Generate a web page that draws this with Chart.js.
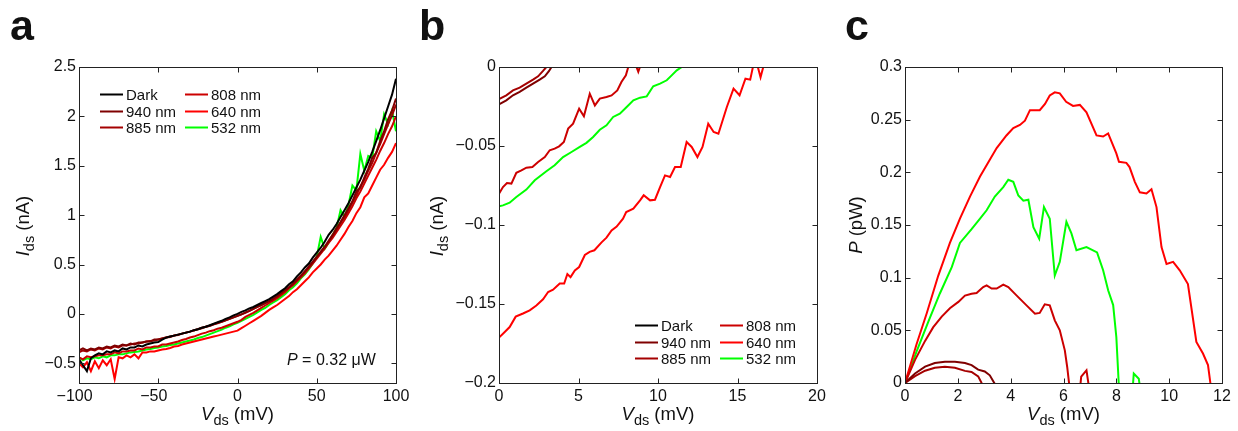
<!DOCTYPE html>
<html>
<head>
<meta charset="utf-8">
<script src="https://cdn.jsdelivr.net/npm/chart.js@4.4.0/dist/chart.umd.min.js"></script>
<style>
  body { margin: 0; background: #fff; width: 1238px; height: 431px; position: relative; overflow: hidden;
         font-family: "Liberation Sans", Arial, sans-serif; color: #111; }
  canvas { position: absolute; top: 0; }
  .lbl { position: absolute; font-weight: bold; font-size: 43px; line-height: 1; }
  .xt, .yt { position: absolute; font-size: 18.5px; line-height: 1; white-space: nowrap; }
  .xt { transform: translateX(-50%); }
  .yt { transform: translate(-50%, -50%) rotate(-90deg); }
  .ann { position: absolute; font-size: 16px; line-height: 1; white-space: nowrap; }
  sub { font-size: 14.5px; vertical-align: -5px; line-height: 0; }
</style>
</head>
<body>
<canvas id="ca" width="420" height="431" style="left:0"></canvas>
<canvas id="cb" width="420" height="431" style="left:420px"></canvas>
<canvas id="cc" width="398" height="431" style="left:840px"></canvas>

<div class="lbl" style="left:10px;top:4px">a</div>
<div class="lbl" style="left:419px;top:4px">b</div>
<div class="lbl" style="left:845px;top:4px">c</div>

<div class="yt" style="left:23px;top:226px"><i>I</i><sub>ds</sub> (nA)</div>
<div class="yt" style="left:437px;top:226px"><i>I</i><sub>ds</sub> (nA)</div>
<div class="yt" style="left:856px;top:225px"><i>P</i> (pW)</div>

<div class="xt" style="left:237.5px;top:405px"><i>V</i><sub>ds</sub> (mV)</div>
<div class="xt" style="left:658px;top:405px"><i>V</i><sub>ds</sub> (mV)</div>
<div class="xt" style="left:1063.5px;top:405px"><i>V</i><sub>ds</sub> (mV)</div>

<div class="ann" style="left:287px;top:352px"><i>P</i> = 0.32 μW</div>

<script>
// ---- series names / colours ----
const labels = ['Dark', '940 nm', '885 nm', '808 nm', '640 nm', '532 nm'];
const colors = ['#000000', '#7f0000', '#a50000', '#cc0000', '#ff0000', '#00ff00'];

// ---- panel a: I-V sweeps, -100..100 mV ----
const vA = [-100,-97.5,-95,-92.5,-90,-87.5,-85,-82.5,-80,-77.5,-75,-72.5,-70,-67.5,-65,-62.5,-60,-57.5,-55,-52.5,
  -50,-47.5,-45,-42.5,-40,-37.5,-35,-32.5,-30,-27.5,-25,-22.5,-20,-17.5,-15,-12.5,-10,-7.5,-5,-2.5,
  0,2.5,5,7.5,10,12.5,15,17.5,20,22.5,25,27.5,30,32.5,35,37.5,40,42.5,45,47.5,
  50,52.5,55,57.5,60,62.5,65,67.5,70,72.5,75,77.5,80,82.5,85,87.5,90,92.5,95,97.5,100];

const aDark = [-0.46,-0.52,-0.58,-0.45, -0.42,-0.40,-0.41,-0.38, -0.39,-0.37,-0.38,-0.35, -0.36,-0.34,-0.34,-0.32,
  -0.33,-0.31,-0.30,-0.29, -0.285,-0.26,-0.24,-0.23, -0.22,-0.21,-0.20,-0.19, -0.18,-0.165,-0.155,-0.14,
  -0.13,-0.115,-0.10,-0.085, -0.07,-0.05,-0.035,-0.015, 0.00,0.02,0.035,0.055, 0.07,0.09,0.11,0.13,
  0.15,0.175,0.20,0.23, 0.26,0.30,0.33,0.38, 0.42,0.47,0.51,0.57, 0.62,0.67,0.73,0.80,
  0.85,0.91,0.98,1.05, 1.12,1.20,1.28,1.36, 1.45,1.54,1.64,1.75, 1.86,1.98,2.10,2.22, 2.38];
const a940 = [-0.37,-0.35,-0.37,-0.35, -0.36,-0.34,-0.35,-0.33, -0.34,-0.32,-0.33,-0.31, -0.32,-0.30,-0.31,-0.29,
  -0.29,-0.28,-0.28,-0.26, -0.26,-0.25,-0.24,-0.23, -0.22,-0.21,-0.20,-0.19, -0.18,-0.165,-0.155,-0.14,
  -0.13,-0.12,-0.105,-0.09, -0.08,-0.065,-0.05,-0.035, -0.02,-0.005,0.015,0.03, 0.05,0.07,0.09,0.11,
  0.13,0.155,0.18,0.21, 0.24,0.27,0.31,0.35, 0.39,0.43,0.48,0.53, 0.58,0.63,0.68,0.74,
  0.80,0.87,0.93,1.00, 1.07,1.14,1.24,1.28, 1.38,1.47,1.58,1.63, 1.75,1.85,1.97,2.06, 2.18];
const a885 = [-0.39,-0.37,-0.38,-0.36, -0.37,-0.35,-0.36,-0.34, -0.35,-0.33,-0.34,-0.32, -0.32,-0.31,-0.30,-0.30,
  -0.29,-0.28,-0.275,-0.27, -0.26,-0.25,-0.24,-0.235, -0.22,-0.215,-0.20,-0.19, -0.18,-0.17,-0.155,-0.145,
  -0.13,-0.12,-0.105,-0.095, -0.08,-0.065,-0.05,-0.035, -0.02,-0.005,0.01,0.03, 0.05,0.07,0.09,0.11,
  0.13,0.15,0.18,0.21, 0.24,0.27,0.30,0.34, 0.38,0.43,0.47,0.52, 0.57,0.62,0.67,0.73,
  0.79,0.85,0.92,0.98, 1.05,1.13,1.20,1.29, 1.36,1.45,1.53,1.63, 1.72,1.82,1.92,2.01, 2.12];
const a808 = [-0.44,-0.46,-0.43,-0.44, -0.43,-0.42,-0.42,-0.41, -0.41,-0.39,-0.40,-0.38, -0.38,-0.37,-0.37,-0.35,
  -0.36,-0.34,-0.34,-0.33, -0.33,-0.31,-0.31,-0.30, -0.29,-0.28,-0.265,-0.255, -0.24,-0.23,-0.215,-0.20,
  -0.19,-0.175,-0.165,-0.15, -0.14,-0.125,-0.11,-0.095, -0.08,-0.06,-0.03,-0.01, 0.01,0.035,0.06,0.085,
  0.11,0.135,0.16,0.19, 0.22,0.26,0.29,0.33, 0.37,0.41,0.46,0.51, 0.56,0.61,0.66,0.72,
  0.77,0.83,0.89,0.95, 1.02,1.09,1.17,1.24, 1.32,1.40,1.48,1.56, 1.65,1.73,1.82,1.90, 2.00];
const a640 = [-0.50,-0.54,-0.49,-0.58, -0.48,-0.55,-0.47,-0.52, -0.46,-0.66,-0.44,-0.45, -0.42,-0.44,-0.41,-0.45,
  -0.39,-0.39,-0.38,-0.38, -0.37,-0.36,-0.355,-0.345, -0.33,-0.325,-0.31,-0.30, -0.29,-0.28,-0.27,-0.26,
  -0.25,-0.24,-0.23,-0.22, -0.21,-0.20,-0.19,-0.18, -0.17,-0.145,-0.12,-0.095, -0.07,-0.045,-0.02,0.01,
  0.04,0.065,0.09,0.12, 0.15,0.18,0.22,0.25, 0.29,0.33,0.37,0.42, 0.46,0.50,0.55,0.59,
  0.64,0.69,0.75,0.81, 0.88,0.94,1.02,1.08, 1.18,1.22,1.30,1.38, 1.46,1.51,1.58,1.64, 1.73];
const a532 = [-0.44,-0.47,-0.45,-0.46, -0.44,-0.45,-0.43,-0.44, -0.42,-0.42,-0.41,-0.41, -0.40,-0.39,-0.385,-0.38,
  -0.37,-0.36,-0.355,-0.345, -0.34,-0.33,-0.325,-0.315, -0.31,-0.30,-0.29,-0.28, -0.27,-0.26,-0.245,-0.235,
  -0.22,-0.205,-0.19,-0.175, -0.16,-0.14,-0.125,-0.105, -0.09,-0.07,-0.05,-0.03, -0.01,0.015,0.04,0.06,
  0.09,0.115,0.14,0.17, 0.20,0.24,0.27,0.31, 0.36,0.40,0.45,0.51, 0.58,0.78,0.66,0.72,
  0.80,0.87,1.05,0.98, 1.10,1.30,1.25,1.62, 1.45,1.60,1.58,1.85, 1.75,2.02,1.92,2.06, 1.85];

// ---- panel b: zoom on the 4th quadrant ----
const b940V = [0,0.46,0.88,1.3,1.72,2.14,2.56,2.88,3.15,3.3,3.5];
const b940I = [-0.0236,-0.0211,-0.0179,-0.0158,-0.0131,-0.0105,-0.008,-0.0059,-0.0025,0,0.002];
const b885V = [0,0.46,0.88,1.3,1.72,2.14,2.46,2.77,2.98,3.2];
const b885I = [-0.0203,-0.0179,-0.0148,-0.0131,-0.0105,-0.008,-0.0059,-0.0025,0,0.002];
const b808V = [0,0.25,0.5,0.78,1.09,1.41,1.72,2.1,2.46,2.88,3.19,3.5,3.78,4.08,4.35,4.66,5.04,5.34,5.71,6.03,
  6.34,6.76,7.08,7.44,7.7,7.98,8.13,8.3,8.5,8.76,9.0];
const b808I = [-0.0802,-0.076,-0.0734,-0.0738,-0.067,-0.0654,-0.0637,-0.0633,-0.0601,-0.057,-0.0527,-0.0517,
  -0.0502,-0.0475,-0.039,-0.0359,-0.0264,-0.0312,-0.0169,-0.0243,-0.02,-0.019,-0.018,-0.0148,-0.0095,-0.0053,
  0,0.003,0.004,-0.003,0.004];
const b640V = [0,0.36,0.67,1.05,1.51,1.93,2.35,2.77,3.09,3.4,3.82,4.1,4.3,4.5,4.77,5.04,5.4,5.7,6.0,6.45,
  6.76,7.08,7.4,7.8,8.0,8.45,8.87,9.1,9.5,9.81,10.13,10.44,10.76,11.07,11.43,11.8,12.12,12.48,12.8,13.16,
  13.5,13.8,14.33,14.75,15.13,15.5,15.8,15.97,16.2,16.45,16.7,17.0];
const b640I = [-0.1713,-0.1677,-0.1646,-0.158,-0.156,-0.154,-0.151,-0.147,-0.1424,-0.141,-0.137,-0.137,-0.131,
  -0.133,-0.1287,-0.1266,-0.119,-0.117,-0.116,-0.111,-0.108,-0.1034,-0.101,-0.096,-0.0918,-0.0897,-0.0844,
  -0.0812,-0.0844,-0.084,-0.076,-0.0686,-0.0696,-0.0633,-0.0633,-0.0475,-0.0506,-0.057,-0.0506,-0.0359,
  -0.0411,-0.0422,-0.0253,-0.0137,-0.0179,-0.0074,-0.008,0,0.003,-0.0065,0.003,0.01];
const b532V = [0,0.25,0.67,1.09,1.72,2.25,2.98,3.5,4.03,4.56,5.08,5.5,5.92,6.34,6.76,7.18,7.6,8.03,8.45,8.87,
  9.29,9.7,10.13,10.55,10.86,11.18,11.5,11.7];
const b532I = [-0.0882,-0.0876,-0.0859,-0.0823,-0.0776,-0.0717,-0.066,-0.0622,-0.057,-0.0538,-0.0506,-0.048,
  -0.0443,-0.0397,-0.0369,-0.0316,-0.0295,-0.0253,-0.0211,-0.0194,-0.0186,-0.0122,-0.0105,-0.0084,-0.0053,
  -0.0021,0,0.001];

// ---- panel c: output power ----
const c940V = [0,0.38,0.76,1.13,1.51,1.89,2.27,2.52,2.77,3.02,3.21,3.38,3.45];
const c940P = [0,0.009,0.0155,0.019,0.0202,0.0202,0.019,0.017,0.0127,0.011,0.0073,0,-0.003];
const c885V = [0,0.38,0.76,1.13,1.51,1.89,2.27,2.52,2.77,2.9,2.98];
const c885P = [0,0.0065,0.0117,0.0145,0.0155,0.0145,0.0115,0.0105,0.0063,0,-0.003];
const c808V = [0,0.38,0.76,1.07,1.39,1.7,2.02,2.27,2.52,2.71,2.96,3.09,3.28,3.47,3.72,3.91,4.22,4.6,4.92,5.1,
  5.29,5.48,5.67,5.86,6.05,6.14,6.21,6.24,6.6,6.67,6.87,6.97];
const c808P = [0,0.022,0.04,0.053,0.063,0.071,0.077,0.083,0.0848,0.0855,0.0911,0.0927,0.0896,0.0896,
  0.0934,0.0911,0.0832,0.0737,0.0658,0.0665,0.0747,0.0737,0.0595,0.05,0.031,0.0152,0,-0.016,-0.012,0.006,
  0.012,-0.005];
const c640V = [0,0.44,0.82,1.26,1.7,2.08,2.46,2.84,3.21,3.47,3.84,4.1,4.35,4.54,4.73,5.1,5.3,5.48,5.67,5.86,
  6.1,6.36,6.62,6.87,7.25,7.5,7.69,8.0,8.1,8.38,8.5,8.7,8.89,9.14,9.33,9.52,9.71,9.9,10.15,10.4,
  10.71,11.03,11.28,11.47,11.56,11.63];
const c640P = [0,0.037,0.066,0.102,0.133,0.156,0.177,0.196,0.212,0.223,0.235,0.242,0.245,0.249,0.259,0.259,
  0.265,0.273,0.276,0.275,0.267,0.263,0.264,0.257,0.235,0.234,0.237,0.218,0.210,0.209,0.205,0.191,0.181,
  0.180,0.184,0.167,0.129,0.113,0.115,0.107,0.094,0.039,0.028,0.017,0,-0.016];
const c532V = [0,0.44,0.88,1.32,1.77,2.08,2.52,2.84,3.09,3.4,3.72,3.91,4.1,4.29,4.48,4.67,4.86,5.08,5.26,5.48,
  5.67,5.86,6.11,6.3,6.49,6.87,7.27,7.5,7.69,7.88,8.0,8.09,8.13,8.6,8.66,8.85,8.93];
const c532P = [0,0.03,0.058,0.085,0.11,0.133,0.146,0.156,0.164,0.177,0.186,0.193,0.191,0.178,0.173,0.174,
  0.148,0.137,0.167,0.156,0.102,0.115,0.153,0.142,0.126,0.129,0.124,0.107,0.088,0.074,0.0437,0,-0.016,
  -0.012,0.009,0.004,-0.01];

// ---- tick labels ----
const aTicksX = [-100, -50, 0, 50, 100];
const aTicksY = [-0.5, 0, 0.5, 1, 1.5, 2, 2.5];
const bTicksX = [0, 5, 10, 15, 20];
const bTicksY = [-0.2, -0.15, -0.1, -0.05, 0];
const cTicksX = [0, 2, 4, 6, 8, 10, 12];
const cTicksY = [0, 0.05, 0.1, 0.15, 0.2, 0.25, 0.3];

Chart.defaults.font.family = '"Liberation Sans", Arial, sans-serif';
Chart.defaults.font.size = 16;
Chart.defaults.color = '#111';

const pts = (xs, ys) => xs.map((x, i) => ({ x, y: ys[i] }));
const fmt = v => (v < 0 ? '\u2212' + String(-v) : String(v));
// x labels: the number itself is centred on the tick, the minus hangs to the left
const fmtX = v => (v < 0 ? fmt(v) + '\u2007' : fmt(v));

function line(idx, data) {
  return {
    label: labels[idx], data, borderColor: colors[idx], backgroundColor: colors[idx],
    borderWidth: 2, pointRadius: 0, fill: false, tension: 0
  };
}

function axis(min, max, tickVals, dim, size, pad, f) {
  return {
    type: 'linear', min, max,
    grid: { display: false, drawTicks: false },
    border: { display: false },
    ticks: { padding: pad, autoSkip: false, maxRotation: 0, callback: v => f(v) },
    afterBuildTicks: s => { s.ticks = tickVals.map(v => ({ value: v })); },
    afterFit: s => { s[dim] = size; }
  };
}

// box round the plot with inward ticks on all four sides
const framePlugin = {
  id: 'frame',
  afterDraw(chart) {
    const { ctx, chartArea: a, scales: { x, y } } = chart;
    const L = Math.round(a.left) + 0.5, R = Math.round(a.right) + 0.5;
    const T = Math.round(a.top) + 0.5, B = Math.round(a.bottom) + 0.5;
    ctx.save();
    ctx.strokeStyle = '#222';
    ctx.lineWidth = 1;
    ctx.strokeRect(L, T, R - L, B - T);
    ctx.beginPath();
    x.ticks.forEach(t => {
      const px = Math.round(x.getPixelForValue(t.value)) + 0.5;
      ctx.moveTo(px, B); ctx.lineTo(px, B - 5);
      ctx.moveTo(px, T); ctx.lineTo(px, T + 5);
    });
    y.ticks.forEach(t => {
      const py = Math.round(y.getPixelForValue(t.value)) + 0.5;
      ctx.moveTo(L, py); ctx.lineTo(L + 5, py);
      ctx.moveTo(R, py); ctx.lineTo(R - 5, py);
    });
    ctx.stroke();
    ctx.restore();
  }
};

// two-column legend, three rows, column-major order
const colLegend = {
  id: 'colLegend',
  afterDatasetsDraw(chart, args, o) {
    if (!o.show) return;
    const { ctx, chartArea: a } = chart;
    const x0 = o.right ? a.right - o.dx : a.left + o.dx;
    const y0 = o.bottom ? a.bottom - o.dy : a.top + o.dy;
    ctx.save();
    ctx.font = '15px "Liberation Sans", Arial, sans-serif';
    ctx.textBaseline = 'middle';
    ctx.fillStyle = '#111';
    chart.data.datasets.forEach((ds, i) => {
      const cx = x0 + Math.floor(i / 3) * 85, cy = Math.round(y0 + (i % 3) * 16.7) + 0.5;
      ctx.strokeStyle = ds.borderColor;
      ctx.lineWidth = 2;
      ctx.beginPath(); ctx.moveTo(cx, cy); ctx.lineTo(cx + 23, cy); ctx.stroke();
      ctx.fillText(ds.label, cx + 26, cy + 1);
    });
    ctx.restore();
  }
};

function makeChart(id, datasets, xs, ys, padRight, yWidth, legendOpts) {
  return new Chart(document.getElementById(id), {
    type: 'line',
    data: { datasets },
    options: {
      responsive: false,
      animation: false,
      layout: { padding: { left: 0, right: padRight, top: 67, bottom: 0 } },
      plugins: { legend: { display: false }, tooltip: { enabled: false }, colLegend: legendOpts },
      scales: {
        x: axis(xs[0], xs[1], xs[2], 'height', 48, 4, fmtX),
        y: axis(ys[0], ys[1], ys[2], 'width', yWidth, 3, fmt)
      }
    },
    plugins: [framePlugin, colLegend]
  });
}

makeChart('ca', [
  line(0, pts(vA, aDark)), line(1, pts(vA, a940)), line(2, pts(vA, a885)),
  line(3, pts(vA, a808)), line(4, pts(vA, a640)), line(5, pts(vA, a532))
], [-100, 100, aTicksX], [-0.7, 2.5, aTicksY], 24, 79, { show: true, dx: 21, dy: 27 });

makeChart('cb', [
  line(0, []), line(1, pts(b940V, b940I)), line(2, pts(b885V, b885I)),
  line(3, pts(b808V, b808I)), line(4, pts(b640V, b640I)), line(5, pts(b532V, b532I))
], [0, 20, bTicksX], [-0.2, 0, bTicksY], 23, 79, { show: true, right: true, bottom: true, dx: 182, dy: 58 });

makeChart('cc', [
  line(1, pts(c940V, c940P)), line(2, pts(c885V, c885P)), line(3, pts(c808V, c808P)),
  line(4, pts(c640V, c640P)), line(5, pts(c532V, c532P))
], [0, 12, cTicksX], [0, 0.3, cTicksY], 16, 65, { show: false });
</script>
</body>
</html>
